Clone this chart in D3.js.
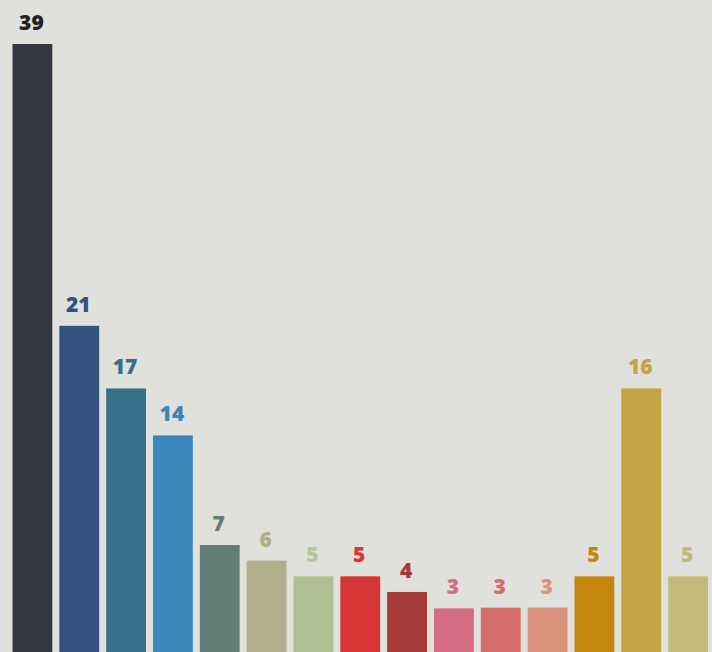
<!DOCTYPE html>
<html>
<head>
<meta charset="utf-8">
<script src="https://cdn.jsdelivr.net/npm/d3@7"></script>
<style>
  html, body { margin: 0; padding: 0; background: #e0e0dc; }
  svg { display: block; }
</style>
</head>
<body>
<svg id="chart" width="712" height="652"></svg>
<script>
const categories = ["c1","c2","c3","c4","c5","c6","c7","c8","c9","c10","c11","c12","c13","c14","c15"];
const values = [39, 21, 17, 14, 7, 6, 5, 5, 4, 2.95, 3, 3, 5, 17, 5];
const labels = ["39","21","17","14","7","6","5","5","4","3","3","3","5","16","5"];
const barColors = ["#333844","#34527e","#37708a","#3a87bc","#627e76","#b1ae8a","#aebf94","#d63636","#a63a39","#d46c82","#d66d6b","#da937a","#c5860e","#c4a543","#c3b97a"];
const labelColors = ["#222222","#34527e","#37708a","#3a87bc","#627e76","#b1ae8a","#b4c59a","#d63636","#a63a39","#d46c82","#d66d6b","#da937a","#c5860e","#c4a543","#c3b97a"];

const W = 712, H = 652;
const svg = d3.select("#chart");
svg.append("rect").attr("width", W).attr("height", H).attr("fill", "#e0e0dc");

const x = d3.scaleBand().domain(categories).range([12.5, 708]).paddingInner(0.15).paddingOuter(0);
const y = d3.scaleLinear().domain([0, 39]).range([654.6, 44]);

const g = svg.append("g");
g.selectAll("rect.bar").data(categories).join("rect")
  .attr("class", "bar")
  .attr("x", d => x(d))
  .attr("width", x.bandwidth())
  .attr("y", (d, i) => y(values[i]))
  .attr("height", (d, i) => y(0) - y(values[i]))
  .attr("fill", (d, i) => barColors[i]);

g.selectAll("text.lbl").data(categories).join("text")
  .attr("class", "lbl")
  .attr("x", d => x(d) + x.bandwidth() / 2 - 1)
  .attr("y", (d, i) => y(values[i]) - 14)
  .attr("text-anchor", "middle")
  .attr("font-family", "'Open Sans', sans-serif")
  .attr("font-weight", 800)
  .attr("font-size", 21)
  .attr("fill", (d, i) => labelColors[i])
  .text((d, i) => labels[i]);
</script>
</body>
</html>
